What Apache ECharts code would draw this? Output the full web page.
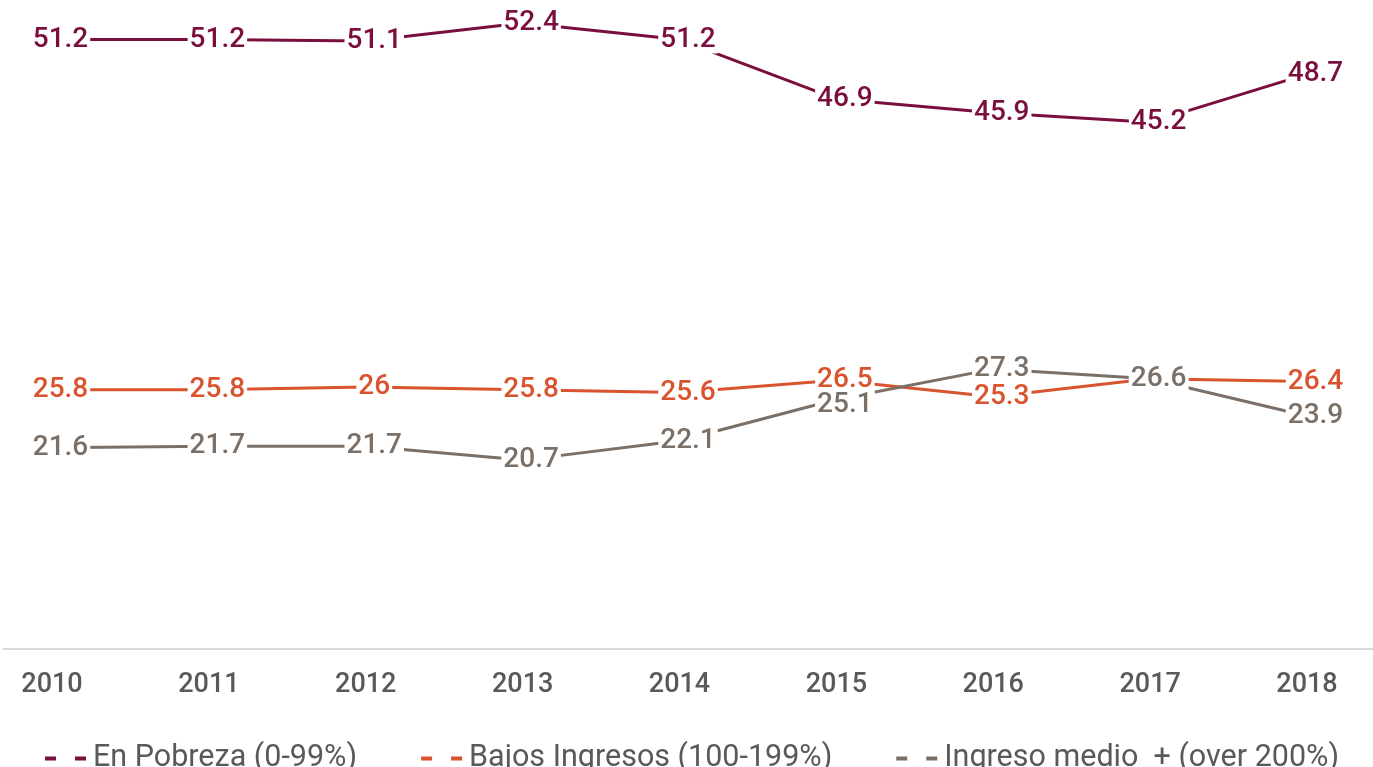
<!DOCTYPE html>
<html><head><meta charset="utf-8">
<script src="https://cdn.jsdelivr.net/npm/echarts@6/dist/echarts.min.js"></script>
<style>html,body{margin:0;padding:0;background:#fff}#c{width:1373px;height:767px}</style>
</head><body><div id="c"></div>
<script>
const years = ['2010','2011','2012','2013','2014','2015','2016','2017','2018'];
const pobreza = [51.2, 51.2, 51.1, 52.4, 51.2, 46.9, 45.9, 45.2, 48.7];
const bajos = [25.8, 25.8, 26, 25.8, 25.6, 26.5, 25.3, 26.6, 26.4];
const medio = [21.6, 21.7, 21.7, 20.7, 22.1, 25.1, 27.3, 26.6, 23.9];
const names = ['En Pobreza (0-99%)', 'Bajos Ingresos (100-199%)', 'Ingreso medio  + (over 200%)'];
const colors = ['#7A0F3F', '#D9542E', '#7B7067'];

const chart = echarts.init(document.getElementById('c'));
function mk(name, data, color, shifts) {
  return {
    name, type: 'line', z: 2,
    data: data.map((v, i) => shifts && shifts[i] ? { value: v, label: { position: [9, 0.5 + shifts[i]] } } : v),
    symbol: 'circle', symbolSize: 1, showSymbol: true,
    lineStyle: { color, width: 3 },
    itemStyle: { color, borderWidth: 0 },
    label: {
      show: true, position: [9, 0.5], align: 'center', verticalAlign: 'middle',
      color, fontSize: 28, fontWeight: 500, fontFamily: 'Roboto',
      backgroundColor: '#fff', padding: [0, 2]
    },
    labelLayout: { hideOverlap: false },
    emphasis: { disabled: true }
  };
}
chart.setOption({
  animation: false,
  textStyle: { fontFamily: 'Roboto' },
  grid: [
    { left: 52, right: 66, top: 1, bottom: 118, containLabel: false },
    { left: 3, right: 0, top: 1, bottom: 118, containLabel: false }
  ],
  xAxis: [{
    type: 'category', data: years, boundaryGap: false, gridIndex: 0,
    axisLine: { show: false },
    axisTick: { show: false },
    axisLabel: { color: '#595959', fontSize: 27, fontWeight: 500, margin: 23 }
  }, {
    type: 'category', data: [''], gridIndex: 1,
    axisLine: { lineStyle: { color: '#D9D9D9', width: 2 } },
    axisTick: { show: false }, axisLabel: { show: false }
  }],
  yAxis: [
    { type: 'value', min: 7, max: 54, show: false, splitLine: { show: false }, gridIndex: 0 },
    { type: 'value', show: false, gridIndex: 1 }
  ],
  legend: {
    top: 738, left: 38, itemWidth: 42, itemHeight: 4, itemGap: 62,
    textStyle: { color: '#595959', fontSize: 30.5, padding: [0, 0, 0, 1] },
    data: names.map((n, i) => ({ name: n,
      itemStyle: { color: colors[i], opacity: 0 },
      lineStyle: { color: colors[i], width: 4, type: [11, 19], cap: 'butt' } }))
  },
  series: [
    mk(names[0], pobreza, colors[0]),
    mk(names[1], bajos, colors[1]),
    mk(names[2], medio, colors[2], [0, 0, 0, 0, 0, 6, 0, 0, 0])
  ]
});
</script></body></html>
